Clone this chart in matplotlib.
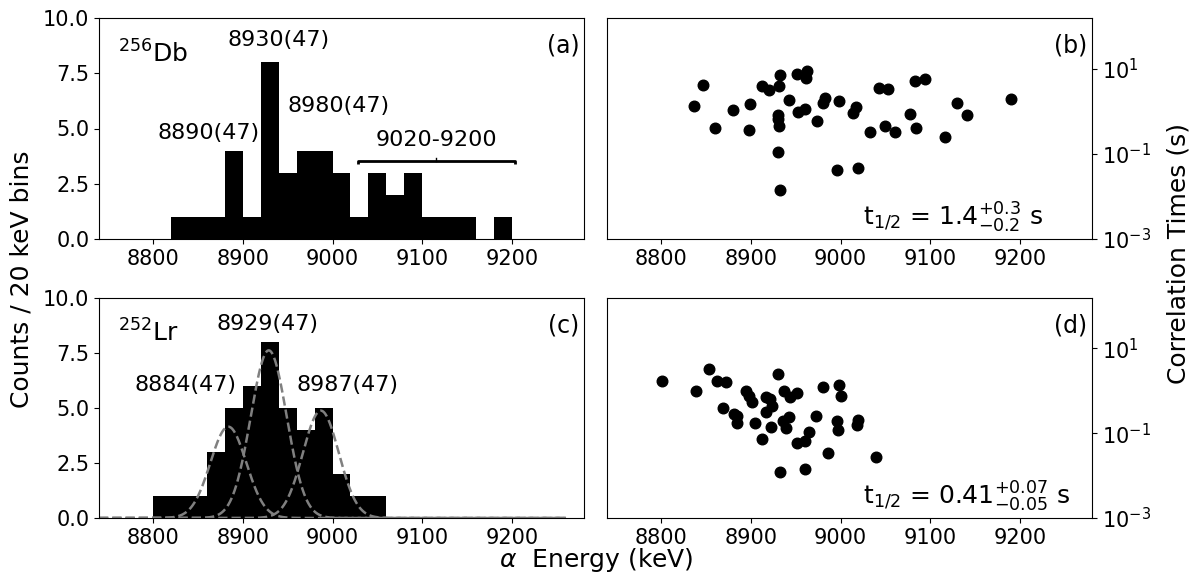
import numpy as np
import matplotlib
matplotlib.use("Agg")
import matplotlib.pyplot as plt

# ---------------- data ----------------
# (a) 256Db histogram, 20 keV bins starting at 8820
db_bin_lo = [8820, 8840, 8860, 8880, 8900, 8920, 8940, 8960, 8980, 9000,
             9020, 9040, 9060, 9080, 9100, 9120, 9140, 9160, 9180]
db_counts = [1, 1, 1, 4, 1, 8, 3, 4, 4, 3, 1, 3, 2, 3, 1, 1, 1, 0, 1]

# (c) 252Lr histogram, 20 keV bins starting at 8800
lr_bin_lo = [8800, 8820, 8840, 8860, 8880, 8900, 8920, 8940, 8960, 8980,
             9000, 9020, 9040]
lr_counts = [1, 1, 1, 3, 5, 6, 8, 5, 4, 5, 2, 1, 1]

# Gaussian components in (c)
g_centers = [8884, 8929, 8987]
g_amps = [4.15, 7.62, 4.88]
g_sigma = 20.0

# (b) 256Db correlation times
db_E = [8837, 8847, 8860, 8880, 8899, 8898, 8913, 8920, 8933, 8931,
        8930, 8930, 8931, 8930, 8933, 8943, 8951, 8953, 8960, 8963,
        8962, 8974, 8981, 8983, 8998, 8996, 9014, 9017, 9019, 9033,
        9043, 9053, 9049, 9061, 9077, 9083, 9094, 9084, 9116, 9130,
        9141, 9190]
db_t = [1.34, 4.19, 0.41, 1.07, 1.49, 0.36, 3.9, 3.08, 7.0, 3.83,
        0.80, 0.66, 0.46, 0.111, 0.0144, 1.85, 7.6, 0.95, 1.16, 8.97,
        5.9, 0.59, 1.55, 2.07, 1.72, 0.0427, 0.93, 1.24, 0.0467, 0.32,
        3.49, 3.31, 0.45, 0.325, 0.88, 5.02, 5.8, 0.40, 0.243, 1.55,
        0.80, 1.95]

# (d) 252Lr correlation times
lr_E = [8801, 8839, 8854, 8863, 8873, 8869, 8881, 8885, 8885, 8895,
        8898, 8901, 8905, 8913, 8917, 8922, 8924, 8917, 8923, 8930,
        8937, 8944, 8952, 8936, 8943, 8939, 8933, 8952, 8960, 8965,
        8960, 8973, 8981, 8986, 8998, 9000, 8996, 8997, 9020, 9018,
        9040]
lr_t = [1.67, 0.97, 3.27, 1.67, 1.61, 0.40, 0.285, 0.26, 0.178, 0.99,
        0.77, 0.54, 0.178, 0.072, 0.72, 0.63, 0.44, 0.32, 0.144, 2.54,
        1.01, 0.72, 0.87, 0.199, 0.242, 0.136, 0.0125, 0.060, 0.066, 0.106,
        0.0145, 0.26, 1.21, 0.035, 1.40, 0.74, 0.195, 0.118, 0.202, 0.157,
        0.0277]

xticks = [8800, 8900, 9000, 9100, 9200]
xlim = (8740, 9280)
bin_width = 20

# ---------------- figure ----------------
fig = plt.figure(figsize=(11.9, 5.72), dpi=100)
L1, W = 99 / 1190, 485 / 1190
L2 = 607 / 1190
B_top, H_top = 1 - 239 / 572, 221 / 572
B_bot, H_bot = 1 - 518 / 572, 220 / 572

ax_a = fig.add_axes([L1, B_top, W, H_top])
ax_b = fig.add_axes([L2, B_top, W, H_top])
ax_c = fig.add_axes([L1, B_bot, W, H_bot])
ax_d = fig.add_axes([L2, B_bot, W, H_bot])

TICK_FS = 15
ANN_FS = 16
PANEL_FS = 17
BIG_FS = 18
LAB_FS = 18

for ax in (ax_a, ax_b, ax_c, ax_d):
    ax.set_xlim(*xlim)
    ax.set_xticks(xticks)
    ax.tick_params(labelsize=TICK_FS)

# (a)
ax_a.bar(db_bin_lo, db_counts, width=bin_width, align='edge', color='black')
ax_a.set_ylim(0, 10)
ax_a.set_yticks([0, 2.5, 5, 7.5, 10])
ax_a.text(0.04, 0.80, r'$^{256}$Db', transform=ax_a.transAxes, fontsize=BIG_FS,
          ha='left', va='baseline')
ax_a.text(0.99, 0.875, '(a)', transform=ax_a.transAxes, fontsize=PANEL_FS,
          ha='right', va='center')
ax_a.text(8862, 4.78, '8890(47)', fontsize=ANN_FS, ha='center', va='center')
ax_a.text(8940, 9.02, '8930(47)', fontsize=ANN_FS, ha='center', va='center')
ax_a.text(9007, 6.02, '8980(47)', fontsize=ANN_FS, ha='center', va='center')
ax_a.text(9116, 4.48, '9020-9200', fontsize=ANN_FS, ha='center', va='center')
br_lo, br_hi, br_y = 9028, 9203, 3.55
ax_a.plot([br_lo, br_lo, br_hi, br_hi], [br_y - 0.17, br_y, br_y, br_y - 0.17],
          color='black', lw=2.0, solid_capstyle='butt')
ax_a.plot([(br_lo + br_hi) / 2] * 2, [br_y, br_y + 0.1], color='black', lw=1.0)

# (c)
ax_c.bar(lr_bin_lo, lr_counts, width=bin_width, align='edge', color='black')
xg = np.linspace(8740, 9260, 600)
for c, a in zip(g_centers, g_amps):
    ax_c.plot(xg, a * np.exp(-(xg - c) ** 2 / (2 * g_sigma ** 2)),
              color='#808080', ls='--', lw=1.8)
ax_c.set_ylim(0, 10)
ax_c.set_yticks([0, 2.5, 5, 7.5, 10])
ax_c.text(0.04, 0.80, r'$^{252}$Lr', transform=ax_c.transAxes, fontsize=BIG_FS,
          ha='left', va='baseline')
ax_c.text(0.99, 0.877, '(c)', transform=ax_c.transAxes, fontsize=PANEL_FS,
          ha='right', va='center')
ax_c.text(8836, 6.05, '8884(47)', fontsize=ANN_FS, ha='center', va='center')
ax_c.text(8928, 8.81, '8929(47)', fontsize=ANN_FS, ha='center', va='center')
ax_c.text(9017, 6.05, '8987(47)', fontsize=ANN_FS, ha='center', va='center')

# (b), (d)
for ax, E, t, lab, txt in ((ax_b, db_E, db_t, '(b)', r'$\mathrm{t_{1/2}}$ = $1.4^{+0.3}_{-0.2}$ s'),
                           (ax_d, lr_E, lr_t, '(d)', r'$\mathrm{t_{1/2}}$ = $0.41^{+0.07}_{-0.05}$ s')):
    ax.scatter(E, t, s=58, color='black', zorder=3)
    ax.set_yscale('log')
    ax.set_ylim(1e-3, 155)
    ax.set_yticks([1e-3, 1e-1, 1e1])
    ax.yaxis.set_minor_locator(matplotlib.ticker.NullLocator())
    ax.yaxis.tick_right()
    ax.text(0.99, 0.875, lab, transform=ax.transAxes, fontsize=PANEL_FS,
            ha='right', va='center')
    ax.text(0.528, 0.06, txt, transform=ax.transAxes, fontsize=BIG_FS,
            ha='left', va='baseline')

fig.text(0.018, 0.512, 'Counts / 20 keV bins', rotation=90, fontsize=LAB_FS,
         ha='center', va='center')
fig.text(0.99, 0.556, 'Correlation Times (s)', rotation=90, fontsize=LAB_FS,
         ha='center', va='center')
fig.text(0.501, 0.021, r'$\alpha$  Energy (keV)', fontsize=LAB_FS,
         ha='center', va='center')

fig.savefig('out.png', dpi=100)
